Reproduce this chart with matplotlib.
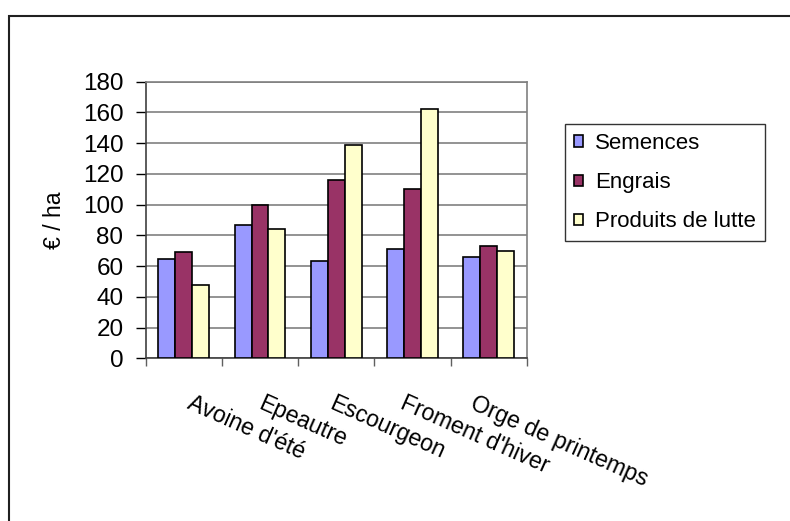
import matplotlib
matplotlib.use("Agg")
import matplotlib.pyplot as plt
import matplotlib.patches as mpatches
import numpy as np

categories = ["Avoine d'été", "Epeautre", "Escourgeon", "Froment d'hiver", "Orge de printemps"]
series_names = ["Semences", "Engrais", "Produits de lutte"]
semences = [64.5, 87, 63, 71, 66]
engrais = [69, 100, 116, 110, 73]
produits = [48, 84, 139, 162, 70]
yticks = [0, 20, 40, 60, 80, 100, 120, 140, 160, 180]
colors = ["#9999FF", "#993366", "#FFFFCC"]

plt.rcParams['font.family'] = ['Liberation Sans', 'DejaVu Sans']

fig = plt.figure(figsize=(7.9, 5.21), dpi=100)
W, H = 790, 521
ax = fig.add_axes([145.7 / W, 1 - 358.3 / H, (526.7 - 145.7) / W, (358.3 - 81.7) / H])

x = np.arange(len(categories))
bw = 1 / 4.5
for i, (vals, c, name) in enumerate(zip([semences, engrais, produits], colors, series_names)):
    ax.bar(x + (i - 1) * bw, vals, width=bw, color=c, edgecolor='black', linewidth=1.2,
           label=name, zorder=3)

ax.set_xlim(-0.5, len(categories) - 0.5)
ax.set_ylim(0, 180)
ax.set_yticks(yticks)
ax.set_yticklabels([str(v) for v in yticks], fontsize=17.5)
ax.yaxis.grid(True, color='#808080', linewidth=1.2, zorder=0)
ax.set_axisbelow(True)

ax.set_xticks(np.arange(len(categories) + 1) - 0.5)
ax.set_xticklabels([])
ax.tick_params(axis='x', direction='out', length=6, width=1, color='#606060')
ax.tick_params(axis='y', direction='out', length=7, width=1, color='black', pad=9)

for s in ['top', 'right']:
    ax.spines[s].set_color('#808080')
    ax.spines[s].set_linewidth(1.2)
ax.spines['left'].set_color('#404040')
ax.spines['left'].set_linewidth(1.2)
ax.spines['bottom'].set_color('#404040')
ax.spines['bottom'].set_linewidth(1.2)

label_pos = [0.13 + 0.928 * i for i in range(len(categories))]
for xp, lab in zip(label_pos, categories):
    ax.text(xp, -0.12, lab, transform=ax.get_xaxis_transform(), rotation=-24,
            rotation_mode='anchor', ha='left', va='top', fontsize=16.7)

ax.set_ylabel("€ / ha", fontsize=16.5, labelpad=12)

handles = [mpatches.Patch(facecolor=c, edgecolor='black', linewidth=1.2) for c in colors]
leg = fig.legend(handles, series_names, loc='upper left',
                 bbox_to_anchor=(565 / W, 1 - 124 / H), borderaxespad=0,
                 fontsize=16, frameon=True, fancybox=False, edgecolor='black',
                 handlelength=0.4, handleheight=0.4, handletextpad=0.55,
                 labelspacing=0.82, borderpad=0.4)
leg.get_frame().set_linewidth(1.0)

border = mpatches.Rectangle((8.5 / W, -0.1), 2.0, 1 - 15.5 / H + 0.1,
                            transform=fig.transFigure, fill=False,
                            edgecolor='#202020', linewidth=1.5, clip_on=False)
fig.patches.append(border)

fig.savefig("out.png", dpi=100)
